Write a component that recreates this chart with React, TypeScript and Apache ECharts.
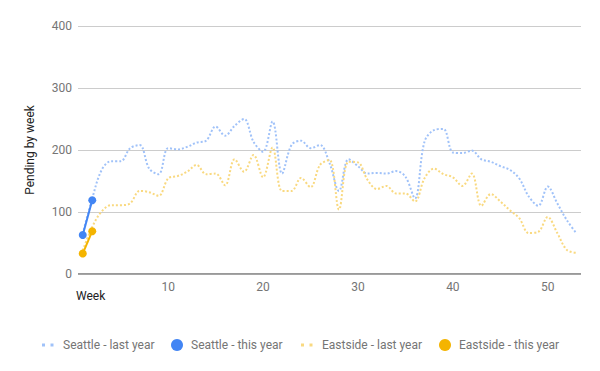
import React, { useEffect, useRef } from "react";
import * as echarts from "echarts";

const weeks: number[] = Array.from({ length: 53 }, (_, i) => i + 1);
const seattleLastYear = [65, 122, 168, 182, 182, 203, 208, 170, 161, 203, 201, 205, 212, 215, 238, 223, 239, 250, 213, 197, 246, 162, 208, 215, 203, 208, 179, 134, 185, 174, 162, 163, 162, 166, 157, 122, 213, 232, 234, 196, 195, 199, 185, 181, 174, 168, 154, 125, 110, 141, 114, 87, 66];
const eastsideLastYear = [38, 76, 101, 111, 111, 114, 134, 132, 126, 154, 158, 165, 176, 161, 162, 143, 185, 165, 192, 156, 204, 134, 134, 155, 140, 176, 184, 104, 181, 180, 152, 137, 142, 130, 130, 117, 154, 170, 161, 156, 142, 162, 110, 129, 117, 103, 90, 66, 68, 92, 66, 39, 34];
const seattleThisYear = [63, 119];
const eastsideThisYear = [33, 69];
const xTickLabels = [10, 20, 30, 40, 50];
const yTicks = [0, 100, 200, 300, 400];
const seriesNames = ["Seattle - last year", "Seattle - this year", "Eastside - last year", "Eastside - this year"];

const BLUE = "#4285F4";
const BLUE_LIGHT = "#a0c2f9";
const ORANGE = "#F4B400";
const ORANGE_LIGHT = "#f9d980";
const FONT = "Roboto";

export default function App() {
  const ref = useRef<HTMLDivElement>(null);
  useEffect(() => {
    if (!ref.current) return;
    document.body.style.margin = "0";
    const chart = echarts.init(ref.current, undefined, { renderer: "svg" });
    const pair = (arr: number[]) => arr.map((v, i) => [weeks[i], v]);
    const legendY = 345;
    const legendItems = [
      { name: seriesNames[0], kind: "dots", color: BLUE_LIGHT, iconX: 42, textX: 63 },
      { name: seriesNames[1], kind: "circle", color: BLUE, iconX: 177, textX: 191 },
      { name: seriesNames[2], kind: "dots", color: ORANGE_LIGHT, iconX: 301, textX: 322 },
      { name: seriesNames[3], kind: "circle", color: ORANGE, iconX: 445, textX: 459 },
    ];
    const legendGraphics: any[] = [];
    legendItems.forEach((it) => {
      if (it.kind === "dots") {
        legendGraphics.push({ type: "rect", shape: { x: it.iconX, y: legendY - 1.5, width: 3, height: 3 }, style: { fill: it.color } });
        legendGraphics.push({ type: "rect", shape: { x: it.iconX + 8.5, y: legendY - 1.5, width: 3, height: 3 }, style: { fill: it.color } });
      } else {
        legendGraphics.push({ type: "circle", shape: { cx: it.iconX, cy: legendY, r: 6 }, style: { fill: it.color } });
      }
      legendGraphics.push({
        type: "text",
        x: it.textX,
        y: legendY,
        style: { text: it.name, fill: "#757575", font: `12px ${FONT}`, textAlign: "left", textVerticalAlign: "middle" },
      });
    });

    chart.setOption({
      animation: false,
      textStyle: { fontFamily: FONT },
      grid: { left: 78, right: 19, top: 26, bottom: 97 },
      xAxis: {
        type: "value",
        min: 0.5,
        max: 53.5,
        axisLine: { show: false },
        axisTick: { show: false },
        splitLine: { show: false },
        axisLabel: {
          customValues: xTickLabels,
          color: "#757575",
          fontSize: 12,
          fontFamily: FONT,
          margin: 7,
        },
      },
      yAxis: {
        type: "value",
        min: yTicks[0],
        max: yTicks[yTicks.length - 1],
        interval: 100,
        axisLine: { show: false },
        axisTick: { show: false },
        splitLine: { lineStyle: { color: "#cccccc", width: 1 } },
        axisLabel: { color: "#757575", fontSize: 12, fontFamily: FONT, margin: 6 },
      },
      graphic: [
        {
          type: "text",
          x: 76,
          y: 296,
          style: { text: "Week", fill: "#222222", font: `12px ${FONT}`, textAlign: "left", textVerticalAlign: "middle" },
        },
        {
          type: "text",
          x: 30,
          y: 150,
          rotation: Math.PI / 2,
          style: { text: "Pending by week", fill: "#222222", font: `12px ${FONT}`, textAlign: "center", textVerticalAlign: "middle" },
        },
        ...legendGraphics,
      ],
      series: [
        {
          name: seriesNames[0],
          type: "line",
          data: pair(seattleLastYear),
          smooth: 0.35,
          showSymbol: false,
          lineStyle: { color: BLUE_LIGHT, width: 2, type: [2, 2] },
          z: 2,
        },
        {
          name: seriesNames[2],
          type: "line",
          data: pair(eastsideLastYear),
          smooth: 0.35,
          showSymbol: false,
          lineStyle: { color: ORANGE_LIGHT, width: 2, type: [2, 2] },
          z: 2,
        },
        {
          name: seriesNames[1],
          type: "line",
          data: pair(seattleThisYear),
          symbol: "circle",
          symbolSize: 8,
          itemStyle: { color: BLUE },
          lineStyle: { color: BLUE, width: 2 },
          z: 3,
        },
        {
          name: seriesNames[3],
          type: "line",
          data: pair(eastsideThisYear),
          symbol: "circle",
          symbolSize: 8,
          itemStyle: { color: ORANGE },
          lineStyle: { color: ORANGE, width: 2 },
          z: 3,
        },
        {
          type: "line",
          data: [[0.5, 0], [53.5, 0]],
          showSymbol: false,
          silent: true,
          lineStyle: { color: "#333333", width: 1 },
          z: 1,
        },
      ],
    });
    return () => chart.dispose();
  }, []);
  return <div ref={ref} style={{ width: 600, height: 371 }} />;
}
